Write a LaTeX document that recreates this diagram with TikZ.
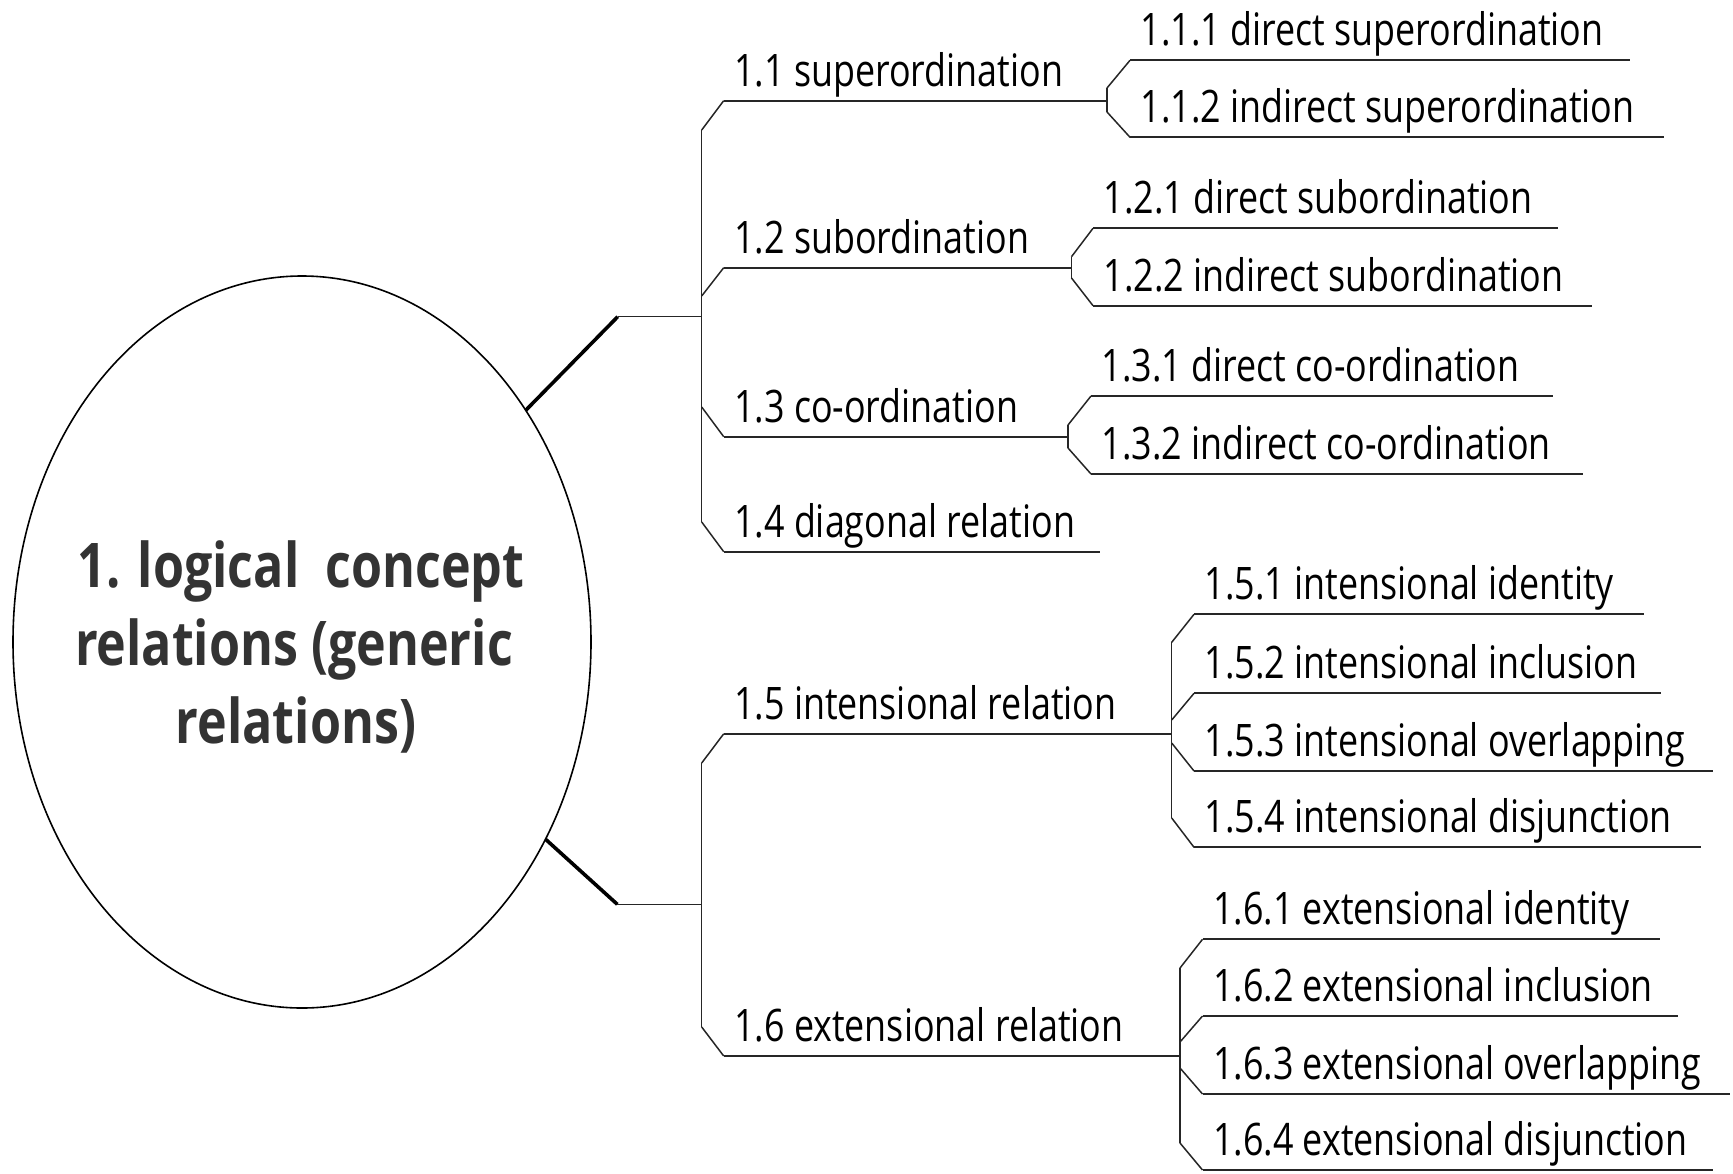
\documentclass[tikz,border=0pt]{standalone}
\usepackage{fontspec}
\usetikzlibrary{shapes.geometric}
\newfontfamily\lblfont[FakeStretch=0.8]{Open Sans}
\newfontfamily\rootfont[FakeStretch=0.815]{Open Sans}
\definecolor{linecol}{HTML}{262626}
\definecolor{roottext}{HTML}{333333}
\tikzset{
  lbl/.style={anchor=base west, inner sep=0pt, outer sep=0pt, text=black,
    font=\lblfont\fontsize{22.4}{26}\selectfont},
  rootlbl/.style={anchor=base, inner sep=0pt, outer sep=0pt, text=roottext,
    font=\rootfont\bfseries\fontsize{30.8}{36}\selectfont},
  tline/.style={draw=linecol, line width=0.75pt},
  uline/.style={draw=linecol, line width=1.15pt},
  conn/.style={draw=black, line width=1.8pt},
}
\newcommand\mybranch[7]{%
  \coordinate (#1s) at (#2,#3);
  \coordinate (#1a) at (#4,#5);
  \coordinate (#1e) at (#6,#5);
  \draw[tline] (#1s) -- (#1a);
  \draw[uline] (#1a) -- (#1e);
  \node[lbl] (#1) at ({#4+10.5},{#5-14.5}) {#7};
}
\begin{document}
\begin{tikzpicture}[x=0.5pt,y=-0.5pt,line join=round,line cap=butt]
\useasboundingbox (0,0) rectangle (1733,1173);

% root ellipse
\node[draw=black, ellipse, line width=0.8pt, minimum width=289pt, minimum height=366pt,
      inner sep=0pt, outer sep=0pt] (root) at (302,642) {};
\node[rootlbl] (rootA) at (301,587) {1. logical~ concept};
\node[rootlbl] (rootB) at (294,665) {relations (generic};
\node[rootlbl] (rootC) at (296,743) {relations)};

% connectors from the root to the two trunks
\coordinate (bendU) at (617.7,316.7);
\coordinate (trunkUc) at (701.7,316.7);
\coordinate (bendL) at (617.3,904.3);
\coordinate (trunkLc) at (701.7,904.3);
\draw[conn] (root.46.1) -- (bendU);
\draw[tline] (bendU) -- (trunkUc);
\draw[conn] (root.-39.6) -- (bendL);
\draw[tline] (bendL) -- (trunkLc);

% upper trunk
\coordinate (trunkUtop) at (701.7,130);
\coordinate (trunkUbot) at (701.7,522);
\draw[tline] (trunkUtop) -- (trunkUbot);
\mybranch{n11}{701.7}{130}{723.7}{100.7}{1107}{1.1 superordination}
\mybranch{n12}{701.7}{296}{723.7}{267.7}{1071.5}{1.2 subordination}
\mybranch{n13}{701.7}{407}{723.7}{436.7}{1068}{1.3 co-ordination}
\mybranch{n14}{701.7}{522}{723.7}{551.7}{1099.7}{1.4 diagonal relation}

% bracket 1.1
\draw[tline] (1107,88) -- (1107,112);
\mybranch{n111}{1107}{88}{1130}{60.3}{1630}{1.1.1 direct superordination}
\mybranch{n112}{1107}{112}{1130}{137.3}{1664}{1.1.2 indirect superordination}

% bracket 1.2
\draw[tline] (1071.5,256.7) -- (1071.5,278);
\mybranch{n121}{1071.5}{256.7}{1093}{228.3}{1558}{1.2.1 direct subordination}
\mybranch{n122}{1071.5}{278}{1093}{305.7}{1592}{1.2.2 indirect subordination}

% bracket 1.3
\draw[tline] (1068,425) -- (1068,448);
\mybranch{n131}{1068}{425}{1091}{396}{1553}{1.3.1 direct co-ordination}
\mybranch{n132}{1068}{448}{1091}{474}{1583}{1.3.2 indirect co-ordination}

% lower trunk
\coordinate (trunkLtop) at (701.7,763);
\coordinate (trunkLbot) at (701.7,1027);
\draw[tline] (trunkLtop) -- (trunkLbot);
\mybranch{n15}{701.7}{763}{723.7}{733.8}{1171.7}{1.5 intensional relation}
\mybranch{n16}{701.7}{1027}{723.7}{1056}{1180}{1.6 extensional relation}

% bracket 1.5
\draw[tline] (1171.7,642.3) -- (1171.7,818);
\mybranch{n151}{1171.7}{642.3}{1194}{614.3}{1644}{1.5.1 intensional identity}
\mybranch{n152}{1171.7}{720}{1194}{693.3}{1661}{1.5.2 intensional inclusion}
\mybranch{n153}{1171.7}{743}{1194}{771}{1713}{1.5.3 intensional overlapping}
\mybranch{n154}{1171.7}{818}{1194}{847.3}{1701}{1.5.4 intensional disjunction}

% bracket 1.6
\draw[tline] (1180,968) -- (1180,1143);
\mybranch{n161}{1180}{968}{1202.5}{939.3}{1660}{1.6.1 extensional identity}
\mybranch{n162}{1180}{1042}{1202.5}{1016}{1678}{1.6.2 extensional inclusion}
\mybranch{n163}{1180}{1068}{1202.5}{1094}{1730}{1.6.3 extensional overlapping}
\mybranch{n164}{1180}{1143}{1202.5}{1170}{1713}{1.6.4 extensional disjunction}
\end{tikzpicture}
\end{document}
